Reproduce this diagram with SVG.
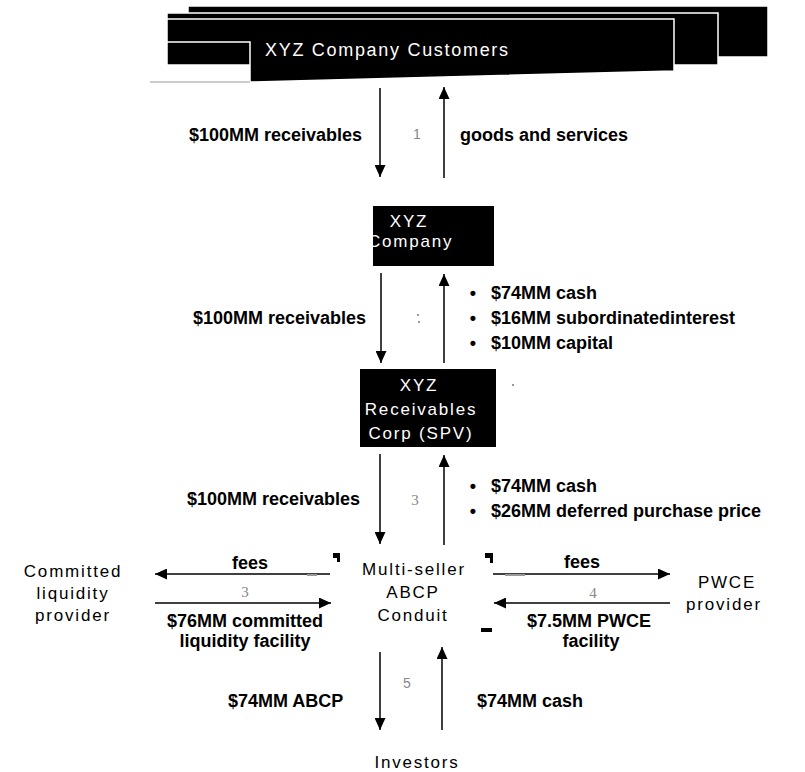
<svg xmlns="http://www.w3.org/2000/svg" width="805" height="772" viewBox="0 0 805 772">
<defs>
<style>
.lbl{font-family:"Liberation Sans",Arial,sans-serif;font-size:18px;font-weight:bold;fill:#000}
.node{font-family:"Liberation Sans",Arial,sans-serif;font-size:17px;letter-spacing:1.8px;fill:#000}
.w{fill:#fff}
.num{font-family:"Liberation Sans",Arial,sans-serif;font-size:14px;fill:#888}
.nums{font-family:"Liberation Serif","Times New Roman",serif;font-size:15px;fill:#888}
.box{fill:#000;stroke:#fff;stroke-width:1.5}
.conn line{stroke:#000;stroke-width:1.5;marker-end:url(#ah)}
.mark{fill:#000}
.faint{fill:#999}
</style>
<marker id="ah" markerUnits="userSpaceOnUse" markerWidth="12" markerHeight="11" refX="12" refY="5.5" orient="auto">
<path d="M0,0 L12,5.5 L0,11 z" fill="#000"/>
</marker>
</defs>
<rect x="0" y="0" width="805" height="772" fill="#fff"/>

<g id="customers">
<rect class="box" x="188" y="6" width="580" height="51"/>
<rect class="box" x="167" y="13" width="551" height="52"/>
<polygon class="box" points="167,19 674,19 674,71 250,82 250,42 167,42"/>
<line x1="150" y1="82" x2="250" y2="82" stroke="#999" stroke-width="1"/>
<text class="node w" x="265" y="56" style="font-size:18px;letter-spacing:1.7px">XYZ Company Customers</text>
</g>

<g id="xyz-company">
<rect x="373" y="206" width="121" height="60" fill="#000"/>
<text class="node w" x="409" y="227" text-anchor="middle">XYZ</text>
<text class="node w" x="368" y="247">Company</text>
</g>

<g id="spv">
<rect x="360" y="369" width="136" height="78" fill="#000"/>
<text class="node w" x="419" y="391" text-anchor="middle">XYZ</text>
<text class="node w" x="421" y="415" text-anchor="middle">Receivables</text>
<text class="node w" x="421" y="439" text-anchor="middle">Corp (SPV)</text>
</g>

<g id="conduit">
<text class="node" x="414" y="575" text-anchor="middle">Multi-seller</text>
<text class="node" x="413" y="598" text-anchor="middle">ABCP</text>
<text class="node" x="413" y="621" text-anchor="middle">Conduit</text>
</g>

<g id="liquidity-provider">
<text class="node" x="73" y="577" text-anchor="middle">Committed</text>
<text class="node" x="73" y="599" text-anchor="middle">liquidity</text>
<text class="node" x="73" y="621" text-anchor="middle">provider</text>
</g>

<g id="pwce-provider">
<text class="node" x="727" y="588" text-anchor="middle">PWCE</text>
<text class="node" x="724" y="610" text-anchor="middle">provider</text>
</g>

<g id="investors">
<text class="node" x="417" y="768" text-anchor="middle">Investors</text>
</g>

<g id="connectors" class="conn">
<line x1="380" y1="88" x2="380" y2="177"/>
<line x1="444" y1="178" x2="444" y2="87"/>
<line x1="381" y1="273" x2="381" y2="363"/>
<line x1="444" y1="363" x2="444" y2="274"/>
<line x1="380" y1="454" x2="380" y2="544"/>
<line x1="444" y1="545" x2="444" y2="455"/>
<line x1="330" y1="574" x2="155" y2="574"/>
<line x1="155" y1="603" x2="331" y2="603"/>
<line x1="493" y1="574" x2="670" y2="574"/>
<line x1="670" y1="603" x2="494" y2="603"/>
<line x1="380" y1="652" x2="380" y2="730"/>
<line x1="442" y1="730" x2="442" y2="647"/>
</g>

<g id="labels">
<text class="lbl" x="362" y="141" text-anchor="end">$100MM receivables</text>
<text class="lbl" x="460" y="141">goods and services</text>
<text class="num" x="417" y="139" text-anchor="middle">1</text>

<text class="lbl" x="366" y="324" text-anchor="end">$100MM receivables</text>
<text class="lbl" x="473" y="299" text-anchor="middle">•</text>
<text class="lbl" x="491" y="299">$74MM cash</text>
<text class="lbl" x="473" y="324" text-anchor="middle">•</text>
<text class="lbl" x="491" y="324">$16MM subordinatedinterest</text>
<text class="lbl" x="473" y="349" text-anchor="middle">•</text>
<text class="lbl" x="491" y="349">$10MM capital</text>

<text class="lbl" x="360" y="505" text-anchor="end">$100MM receivables</text>
<text class="nums" x="415" y="505" text-anchor="middle">3</text>
<text class="lbl" x="473" y="492" text-anchor="middle">•</text>
<text class="lbl" x="491" y="492">$74MM cash</text>
<text class="lbl" x="473" y="517" text-anchor="middle">•</text>
<text class="lbl" x="491" y="517">$26MM deferred purchase price</text>

<text class="lbl" x="250" y="569" text-anchor="middle">fees</text>
<text class="nums" x="245" y="597" text-anchor="middle">3</text>
<text class="lbl" x="245" y="627" text-anchor="middle">$76MM committed</text>
<text class="lbl" x="245" y="647" text-anchor="middle">liquidity facility</text>

<text class="lbl" x="582" y="568" text-anchor="middle">fees</text>
<text class="nums" x="593" y="598" text-anchor="middle">4</text>
<text class="lbl" x="589" y="627" text-anchor="middle">$7.5MM PWCE</text>
<text class="lbl" x="591" y="647" text-anchor="middle">facility</text>

<text class="lbl" x="228" y="707">$74MM ABCP</text>
<text class="num" x="407" y="688" text-anchor="middle">5</text>
<text class="lbl" x="477" y="707">$74MM cash</text>
</g>

<g id="marks">
<path class="mark" d="M333,553 h7 v9 h-3 v-4 h-4 z"/>
<path class="mark" d="M485,553 h8 v10 h-3 v-5 h-5 z"/>
<rect class="mark" x="481" y="628" width="11" height="4"/>
<rect class="faint" x="307" y="574" width="10" height="2"/>
<rect class="faint" x="505" y="574" width="20" height="2"/>
<rect class="faint" x="417" y="314" width="2" height="2"/>
<rect class="faint" x="418" y="321" width="2" height="2"/>
<rect class="faint" x="512" y="384" width="2" height="2"/>
</g>
</svg>
